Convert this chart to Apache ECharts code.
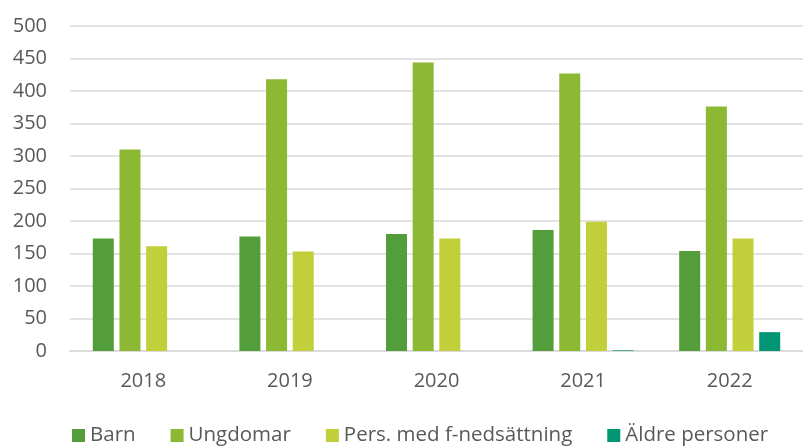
<!DOCTYPE html>
<html>
<head>
<meta charset="utf-8">
<script src="https://cdn.jsdelivr.net/npm/echarts@6/dist/echarts.min.js"></script>
<style>
  html, body { margin: 0; padding: 0; background: #fff; }
  #main { width: 803px; height: 446px; }
</style>
</head>
<body>
<div id="main"></div>
<script>
var years = ['2018', '2019', '2020', '2021', '2022']
var barn = [173, 176, 180, 186, 154]
var ungdomar = [310, 418, 444, 427, 376]
var persMedF = [161, 153, 173, 199, 173]
var aldre = [0, 0, 0, 1, 29]

var chart = echarts.init(document.getElementById('main'))
var font = '"Open Sans", sans-serif'
var textColor = '#595959'

function bar (name, data, color) {
  return {
    name: name,
    type: 'bar',
    data: data,
    barWidth: 21,
    barGap: '27%',
    itemStyle: { color: color },
    emphasis: { disabled: true }
  }
}

var option = {
  animation: false,
  grid: { left: 70, top: 26, width: 742, bottom: 95 },
  xAxis: {
    type: 'category',
    data: years,
    axisLine: { lineStyle: { color: '#d9d9d9', width: 1.5 } },
    axisTick: { show: false },
    axisLabel: { color: textColor, fontSize: 20, fontFamily: font, margin: 20 }
  },
  yAxis: {
    type: 'value',
    min: 0,
    max: 500,
    interval: 50,
    axisLine: { show: false },
    axisTick: { show: false },
    splitLine: { lineStyle: { color: '#d9d9d9', width: 1.5 } },
    axisLabel: { color: textColor, fontSize: 20, fontFamily: font, margin: 23 }
  },
  legend: {
    left: 67,
    top: 420,
    itemWidth: 13,
    itemHeight: 13,
    itemGap: 35,
    icon: 'rect',
    textStyle: { color: textColor, fontSize: 20.5, fontFamily: font }
  },
  series: [
    bar('Barn', barn, '#539d3a'),
    bar('Ungdomar', ungdomar, '#8cb834'),
    bar('Pers. med f-nedsättning', persMedF, '#c1cf3b'),
    bar('Äldre personer', aldre, '#009673')
  ]
}

option && chart.setOption(option)
</script>
</body>
</html>
